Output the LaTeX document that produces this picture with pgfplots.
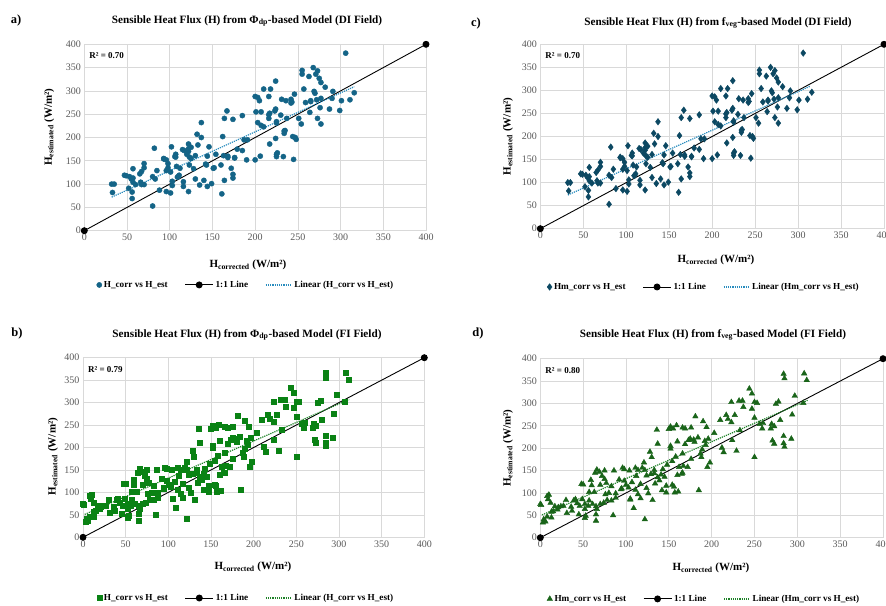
\documentclass[border=0pt]{standalone}
\usepackage{pgfplots}
\pgfplotsset{compat=1.18}
\usepackage{pgfplotstable}
\usepackage{fontspec}
\setmainfont{Liberation Serif}

\definecolor{diblue}{RGB}{20,100,135}
\definecolor{dinavy}{RGB}{12,72,98}
\definecolor{trendblue}{RGB}{40,140,190}
\definecolor{figreen}{RGB}{10,130,20}
\definecolor{fidark}{RGB}{25,100,25}
\definecolor{trendgreen}{RGB}{30,130,40}
\definecolor{gridgray}{RGB}{217,217,217}
\definecolor{ticktext}{RGB}{89,89,89}

% DI field: H_corrected vs H_estimated
\pgfplotstableread{
x y
306 381
268 350
255 344
255 336
273 343
271 336
263 331
275 327
277 318
282 308
224 321
218 304
210 304
200 288
203 286
205 279
216 288
231 282
236 279
242 282
242 274
246 293
257 304
259 275
265 279
269 299
270 295
272 281
277 284
291 299
290 284
301 279
311 281
316 296
287 261
299 258
264 254
276 264
273 241
277 229
254 229
251 241
224 261
223 257
217 252
216 241
216 249
207 255
201 255
210 223
203 232
225 231
230 248
237 241
234 214
234 209
244 202
247 200
248 196
224 198
217 186
162 202
137 232
167 257
164 241
174 239
185 247
187 195
191 195
137 200
132 207
243 276
265 277
225 234
207 226
235 215
146 180
82 177
102 180
115 174
122 186
122 176
125 179
133 184
106 159
96 152
93 155
122 170
117 172
130 161
179 175
185 172
176 157
168 157
190 152
200 152
206 160
225 164
225 159
233 159
245 153
226 167
32 100
35 100
33 82
47 119
49 118
53 116
55 111
52 91
57 104
57 113
57 133
56 83
56 69
60 99
66 104
67 99
70 99
65 122
70 144
70 135
80 116
80 53
83 111
85 129
88 87
93 154
96 84
96 129
98 144
98 135
101 81
101 126
103 106
103 97
107 158
107 164
109 115
111 119
112 134
116 105
116 95
120 164
122 84
123 141
123 158
128 133
130 111
135 98
140 108
143 141
144 160
144 95
149 101
151 134
154 164
160 141
161 79
164 108
163 161
168 160
172 134
174 121
174 113
176 156
108 138
110 116
125 155
142 143
152 135
67 127
}\DIdata

% FI field: H_corrected vs H_estimated
\pgfplotstableread{
x y
284 366
285 356
308 367
311 352
244 333
247 322
232 306
236 306
237 292
223 303
250 303
253 301
247 288
275 299
278 304
307 301
297 317
294 275
217 274
219 265
210 263
227 274
223 258
250 268
256 254
260 256
259 244
269 244
270 254
273 249
280 263
271 217
284 227
284 211
293 221
181 271
190 260
194 247
203 234
159 251
169 244
176 246
166 246
155 244
136 241
160 215
169 209
175 221
179 219
184 224
180 214
192 216
196 221
193 207
212 201
224 218
233 240
137 210
150 243
152 248
152 205
173 218
273 210
285 203
189 197
187 188
188 180
198 168
195 158
214 191
229 194
250 180
166 188
158 181
152 199
128 192
130 180
121 168
119 156
114 151
111 156
104 150
98 153
86 150
75 150
69 147
66 152
154 171
148 163
143 153
133 151
122 151
96 156
165 143
160 140
161 103
185 106
112 138
107 124
64 145
59 129
60 117
50 119
57 102
63 102
70 118
75 131
72 138
77 122
98 127
83 115
124 139
129 142
133 144
139 128
141 141
147 116
156 114
111 107
117 88
114 97
94 108
103 112
100 118
88 99
88 89
105 87
83 83
85 50
65 52
65 38
109 66
122 41
49 86
41 86
43 77
36 69
30 84
27 71
21 68
17 70
13 58
13 45
8 47
4 41
3 34
1 73
0 75
8 93
9 86
12 78
24 70
20 63
31 55
37 60
45 52
53 49
52 64
56 71
61 75
65 70
70 75
52 75
46 71
66 64
74 78
78 84
10 96
15 59
6 36
39 83
48 120
57 83
52 44
105 85
131 84
147 101
157 101
154 118
126 99
134 121
137 135
145 136
142 106
166 145
162 158
167 160
176 176
172 158
124 111
117 120
92 130
80 100
76 97
95 110
}\FIdata

\pgfplotsset{
  heatflux/.style={
    scale only axis, anchor=south west,
    xmin=0, xmax=400, ymin=0, ymax=400,
    xtick={0,50,...,400}, ytick={0,50,...,400},
    grid=major, major grid style={gridgray, line width=0.7pt},
    axis line style={gridgray, line width=0.8pt},
    major tick length=0pt,
    ticklabel style={font=\fontsize{10}{11}\selectfont, text=ticktext},
    /pgf/number format/assume math mode=true,
    clip=false,
    xlabel={H\textsubscript{corrected} (W/m²)},
    ylabel={H\textsubscript{estimated} (W/m²)},
    label style={font=\bfseries\fontsize{11}{13}\selectfont, anchor=center},
    legend columns=3,
    legend cell align=left,
    legend style={draw=none, fill=none, anchor=center,
      font=\bfseries\fontsize{9.2}{10}\selectfont,
      /tikz/every even column/.append style={column sep=15pt}},
  },
  oneone/.style={black, line width=0.9pt, mark=*, mark size=3pt,
    legend image code/.code={\draw[##1, mark repeat=2, mark phase=2]
      plot coordinates {(0pt,0pt) (14pt,0pt) (28pt,0pt)};}},
  trend/.style={densely dotted, line width=1.2pt,
    legend image code/.code={\draw[##1] (0pt,0pt) -- (26pt,0pt);}},
}

\begin{document}
\begin{tikzpicture}
\useasboundingbox (0,0) rectangle (886pt,-605pt);

% panel letters and titles
\node[font=\bfseries\fontsize{12.5}{14}\selectfont] at (16pt,-20pt) {a)};
\node[font=\bfseries\fontsize{12.5}{14}\selectfont] at (476pt,-23pt) {c)};
\node[font=\bfseries\fontsize{12.5}{14}\selectfont] at (17pt,-333pt) {b)};
\node[font=\bfseries\fontsize{12.5}{14}\selectfont] at (478pt,-333pt) {d)};
\node[font=\bfseries\fontsize{11.2}{13}\selectfont] at (247pt,-21pt)
  {Sensible Heat Flux (H) from Φ\textsubscript{dp}-based Model (DI Field)};
\node[font=\bfseries\fontsize{11.2}{13}\selectfont] at (718pt,-23pt)
  {Sensible Heat Flux (H) from f\textsubscript{veg}-based Model (DI Field)};
\node[font=\bfseries\fontsize{11.2}{13}\selectfont] at (247pt,-335pt)
  {Sensible Heat Flux (H) from Φ\textsubscript{dp}-based Model (FI Field)};
\node[font=\bfseries\fontsize{11.2}{13}\selectfont] at (713pt,-335pt)
  {Sensible Heat Flux (H) from f\textsubscript{veg}-based Model (FI Field)};

% a) DI, Phi_dp
\begin{axis}[heatflux, at={(84.3pt,-230.7pt)}, width=341.7pt, height=186.4pt,
  xlabel style={at={(0.479,-0.184)}},
  ylabel style={at={(-0.103,0.556)}},
  legend style={at={(0.473,-0.291)}}]
  \addplot[only marks, mark=*, mark size=2.6pt, color=diblue] table {\DIdata};
  \addlegendentry{H\_corr vs H\_est}
  \addplot[oneone] coordinates {(0,0) (400,400)};
  \addlegendentry{1:1 Line}
  \addplot[trend, trendblue] coordinates {(32,72) (316,309)};
  \addlegendentry{Linear (H\_corr vs H\_est)}
  \node[anchor=west, fill=white, inner sep=1.5pt, font=\bfseries\fontsize{9}{10}\selectfont]
    at (rel axis cs:0.010,0.937) {R² = 0.70};
\end{axis}

% c) DI, f_veg
\begin{axis}[heatflux, at={(540.3pt,-228.7pt)}, width=343.7pt, height=184.4pt,
  xlabel style={at={(0.511,-0.17)}},
  ylabel style={at={(-0.094,0.50)}},
  legend style={at={(0.476,-0.316)}}]
  \addplot[only marks, mark=diamond*, mark size=3.3pt, color=dinavy] table {\DIdata};
  \addlegendentry{Hm\_corr vs H\_est}
  \addplot[oneone] coordinates {(0,0) (400,400)};
  \addlegendentry{1:1 Line}
  \addplot[trend, trendblue] coordinates {(32,73) (314,309)};
  \addlegendentry{Linear (Hm\_corr vs H\_est)}
  \node[anchor=west, fill=white, inner sep=1.5pt, font=\bfseries\fontsize{9}{10}\selectfont]
    at (rel axis cs:0.010,0.937) {R² = 0.70};
\end{axis}

% b) FI, Phi_dp
\begin{axis}[heatflux, at={(83pt,-537.3pt)}, width=341.3pt, height=179.6pt,
  xlabel style={at={(0.498,-0.165)}},
  ylabel style={at={(-0.088,0.45)}},
  legend style={at={(0.478,-0.338)}}]
  \addplot[only marks, mark=square*, mark size=2.5pt, color=figreen] table {\FIdata};
  \addlegendentry{H\_corr vs H\_est}
  \addplot[oneone] coordinates {(0,0) (400,400)};
  \addlegendentry{1:1 Line}
  \addplot[trend, trendgreen] coordinates {(2,51) (312,307)};
  \addlegendentry{Linear (H\_corr vs H\_est)}
  \node[anchor=west, fill=white, inner sep=1.5pt, font=\bfseries\fontsize{9}{10}\selectfont]
    at (rel axis cs:0.010,0.935) {R² = 0.79};
\end{axis}

% d) FI, f_veg
\begin{axis}[heatflux, at={(540.3pt,-537.7pt)}, width=342.7pt, height=179pt,
  xlabel style={at={(0.498,-0.169)}},
  ylabel style={at={(-0.094,0.50)}},
  legend style={at={(0.478,-0.342)}}]
  \addplot[only marks, mark=triangle*, mark size=3.2pt, color=fidark] table {\FIdata};
  \addlegendentry{Hm\_corr vs H\_est}
  \addplot[oneone] coordinates {(0,0) (400,400)};
  \addlegendentry{1:1 Line}
  \addplot[trend, trendgreen] coordinates {(2,51) (312,307)};
  \addlegendentry{Linear (Hm\_corr vs H\_est)}
  \node[anchor=west, fill=white, inner sep=1.5pt, font=\bfseries\fontsize{9}{10}\selectfont]
    at (rel axis cs:0.010,0.935) {R² = 0.80};
\end{axis}
\end{tikzpicture}
\end{document}
